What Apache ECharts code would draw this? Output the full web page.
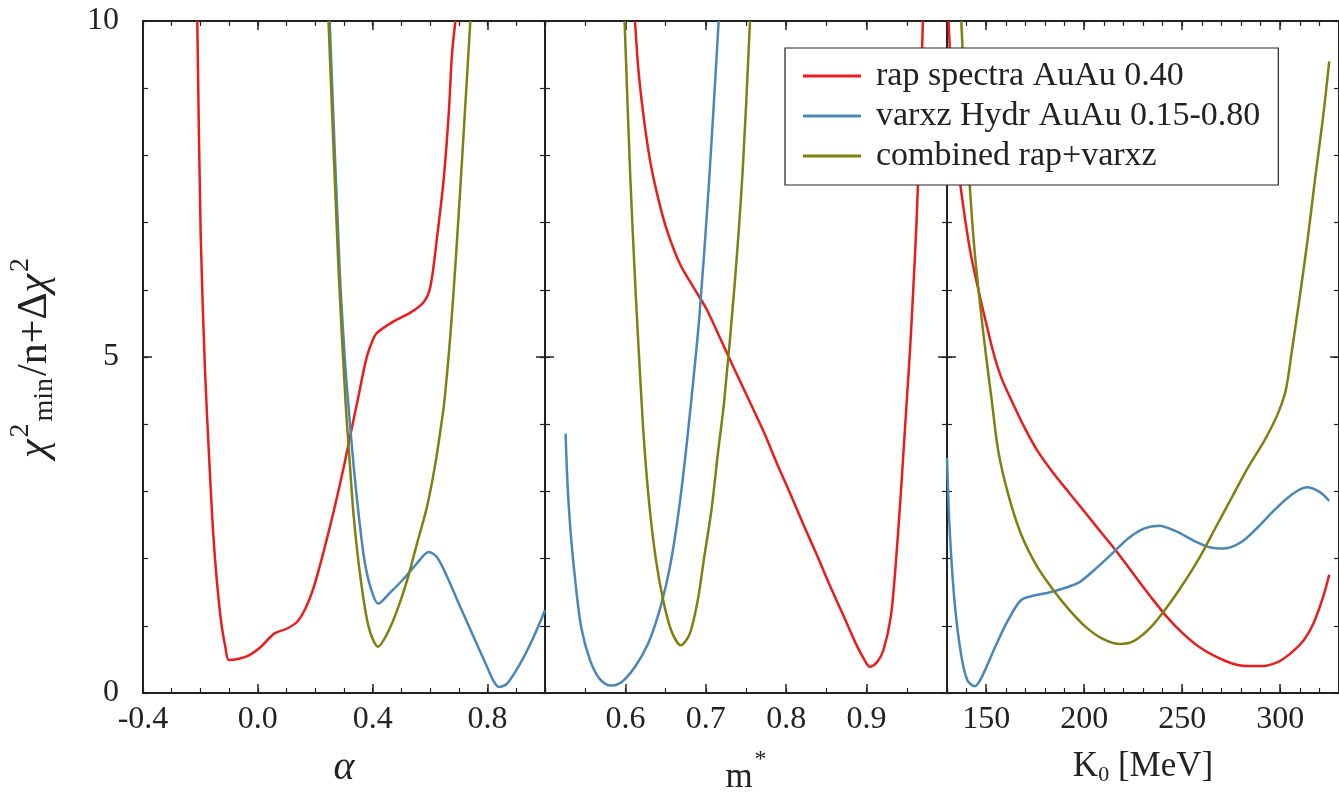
<!DOCTYPE html>
<html>
<head>
<meta charset="utf-8">
<script src="https://cdn.jsdelivr.net/npm/echarts@6/dist/echarts.min.js"></script>
<style>
html,body{margin:0;padding:0;background:#fff;}
#chart{width:1339px;height:803px;}
</style>
</head>
<body>
<div id="chart"></div>
<script>
// ---------- DATA ----------
const seriesNames = ['rap spectra AuAu 0.40', 'varxz Hydr AuAu 0.15-0.80', 'combined rap+varxz'];

// Panel 1: alpha
const alphaRap = [[-0.211,10],[-0.199,6.8],[-0.184,4.8],[-0.171,3.61],[-0.159,2.62],[-0.147,1.88],[-0.130,1.13],[-0.113,0.68],[-0.101,0.49],[-0.066,0.51],[-0.031,0.56],[0.009,0.68],[0.056,0.88],[0.102,0.96],[0.137,1.06],[0.166,1.26],[0.195,1.58],[0.230,2.12],[0.265,2.72],[0.299,3.36],[0.328,3.96],[0.352,4.45],[0.378,4.98],[0.400,5.25],[0.415,5.36],[0.473,5.53],[0.531,5.66],[0.578,5.82],[0.601,6.05],[0.624,6.78],[0.647,7.64],[0.665,8.64],[0.676,9.5],[0.688,10]];
const alphaVarxz = [[0.250,10],[0.285,6.3],[0.304,4.9],[0.317,4.2],[0.334,3.36],[0.352,2.62],[0.371,1.98],[0.392,1.58],[0.419,1.33],[0.462,1.50],[0.508,1.70],[0.554,1.93],[0.595,2.10],[0.624,2.02],[0.659,1.73],[0.705,1.28],[0.752,0.83],[0.798,0.39],[0.822,0.17],[0.839,0.09],[0.868,0.14],[0.914,0.44],[0.960,0.83],[1.0,1.23]];
const alphaComb = [[0.246,10],[0.281,6.3],[0.305,4.36],[0.317,3.61],[0.334,2.62],[0.357,1.73],[0.386,0.98],[0.419,0.69],[0.450,0.88],[0.485,1.23],[0.520,1.68],[0.554,2.22],[0.589,2.77],[0.618,3.41],[0.641,4.06],[0.650,4.36],[0.670,5.3],[0.690,6.5],[0.712,8.0],[0.740,10]];

// Panel 2: m*
const mRap = [[0.612,10],[0.616,9.3],[0.622,8.64],[0.630,7.97],[0.639,7.45],[0.651,6.91],[0.668,6.38],[0.684,6.05],[0.701,5.71],[0.717,5.3],[0.734,4.86],[0.756,4.3],[0.773,3.86],[0.789,3.4],[0.806,2.94],[0.822,2.49],[0.839,2.03],[0.855,1.58],[0.872,1.13],[0.886,0.75],[0.897,0.5],[0.904,0.39],[0.913,0.46],[0.921,0.64],[0.930,1.13],[0.936,1.88],[0.942,2.87],[0.946,3.61],[0.950,4.36],[0.954,5.1],[0.958,6.0],[0.962,6.98],[0.966,8.31],[0.970,10]];
const mVarxz = [[0.5256,3.86],[0.528,3.12],[0.532,2.37],[0.538,1.63],[0.545,0.98],[0.556,0.49],[0.568,0.21],[0.581,0.11],[0.595,0.16],[0.612,0.39],[0.628,0.73],[0.640,1.13],[0.651,1.63],[0.659,2.12],[0.667,2.77],[0.674,3.46],[0.682,4.36],[0.692,5.6],[0.704,7.6],[0.716,10]];
const mComb = [[0.599,10],[0.606,7.7],[0.613,5.9],[0.620,4.36],[0.624,3.61],[0.630,2.77],[0.638,1.98],[0.647,1.38],[0.657,0.93],[0.669,0.71],[0.680,0.88],[0.690,1.38],[0.698,2.02],[0.707,2.72],[0.715,3.56],[0.723,4.36],[0.736,6.1],[0.746,7.8],[0.755,10]];

// Panel 3: K0 [MeV]
const kRap = [[130.8,10],[132.5,9.0],[135,8.0],[138.5,7.2],[142,6.55],[146,6.0],[150,5.5],[154,5.03],[158,4.67],[162.8,4.36],[169.4,3.96],[176.0,3.61],[184.3,3.27],[192.6,2.97],[200.9,2.67],[209.2,2.37],[217.5,2.07],[225.7,1.75],[234.0,1.43],[242.3,1.13],[250.6,0.88],[258.9,0.68],[267.2,0.54],[275.5,0.44],[283.7,0.40],[290.4,0.40],[298.7,0.46],[305.3,0.59],[311.9,0.78],[316.9,1.03],[321.9,1.43],[325,1.76]];
const kVarxz = [[130,3.5],[131.3,2.47],[133.8,1.38],[137.1,0.59],[140.4,0.19],[144.2,0.10],[147.8,0.24],[154.5,0.68],[161.1,1.08],[167.7,1.38],[174.4,1.45],[182.6,1.50],[190.9,1.57],[197.6,1.65],[205.9,1.85],[214.1,2.07],[222.4,2.30],[230.7,2.45],[238.2,2.49],[247.3,2.40],[255.6,2.27],[263.9,2.17],[271.3,2.15],[280.4,2.25],[288.7,2.47],[297.0,2.72],[305.3,2.94],[313.6,3.06],[320.2,2.99],[325,2.86]];
const kComb = [[137.3,10],[139,8.9],[141.5,7.6],[144,6.6],[147,5.75],[150,5.0],[152.8,4.36],[156.1,3.61],[161.1,2.97],[167.7,2.37],[176.0,1.88],[184.3,1.53],[192.6,1.23],[200.9,0.98],[209.2,0.81],[218.3,0.73],[225.7,0.78],[234.0,0.98],[242.3,1.28],[250.6,1.63],[258.9,2.02],[267.2,2.47],[275.5,2.92],[283.7,3.36],[292.0,3.76],[298.7,4.15],[302.8,4.5],[306,5.1],[310,5.9],[314,6.75],[318,7.7],[322,8.6],[325,9.4]];

// Tick labels
const alphaTicks = [-0.4, 0.0, 0.4, 0.8];
const mTicks = [0.6, 0.7, 0.8, 0.9];
const kTicks = [150, 200, 250, 300];
const yTicks = [0, 5, 10];

// ---------- STYLE ----------
const FF = '"Liberation Serif", "DejaVu Serif", serif';
const INK = '#222';
const colors = ['#ea1c1c', '#4a87b9', '#7f800e'];

const panels = [
  {left: 143, min: -0.4, max: 1.0, ticks: alphaTicks, minor: 0.1, fmt: v => v.toFixed(1),
   name: '{i|α}', data: [alphaRap, alphaVarxz, alphaComb]},
  {left: 545, min: 0.5, max: 1.0, ticks: mTicks, minor: 0.05, fmt: v => v.toFixed(1),
   name: '{t|m}{star|*}', data: [mRap, mVarxz, mComb]},
  {left: 947, min: 130, max: 330, ticks: kTicks, minor: 10, fmt: v => String(v),
   name: '{t|K}{sub|0}{t| [MeV]}', data: [kRap, kVarxz, kComb]}
];

const rich = {
  t: {fontFamily: FF, fontSize: 35, color: INK},
  i: {fontFamily: FF, fontSize: 40, color: INK, fontStyle: 'italic'},
  star: {fontFamily: FF, fontSize: 24, color: INK, padding: [0, 0, 36, 2]},
  sup: {fontFamily: FF, fontSize: 22, color: INK, padding: [0, 0, 22, 0]},
  sub: {fontFamily: FF, fontSize: 22, color: INK, padding: [16, 0, 0, 0]}
};
const yrich = {
  t: {fontFamily: FF, fontSize: 42, color: INK},
  ti: {fontFamily: FF, fontSize: 42, color: INK, fontStyle: 'italic'},
  sup: {fontFamily: FF, fontSize: 28, color: INK, padding: [0, 2, 28, 2]},
  sub: {fontFamily: FF, fontSize: 28, color: INK, padding: [20, 2, 0, 0]}
};

const grids = [], xAxes = [], yAxes = [], series = [];
const lineStyle = {color: INK, width: 2};

panels.forEach((p, g) => {
  grids.push({left: p.left, top: 21, width: 402, height: 672});
  const base = {type: 'value', gridIndex: g, min: p.min, max: p.max, splitLine: {show: false}};
  xAxes.push(Object.assign({}, base, {
    position: 'bottom',
    axisLine: {show: true, onZero: false, lineStyle},
    axisTick: {show: true, inside: true, length: 9, lineStyle: {color: INK, width: 1.5}, customValues: p.ticks},
    axisLabel: {show: true, customValues: p.ticks, formatter: p.fmt, fontFamily: FF, fontSize: 32, color: INK, margin: 11},
    name: p.name, nameLocation: 'middle', nameGap: 55,
    nameTextStyle: {fontFamily: FF, fontSize: 35, color: INK, rich: rich}
  }));
  xAxes.push(Object.assign({}, base, {
    position: 'bottom', interval: p.minor,
    axisLine: {show: false, onZero: false},
    axisTick: {show: true, inside: true, length: 5, lineStyle: {color: INK, width: 1.2}},
    axisLabel: {show: false}
  }));
  xAxes.push(Object.assign({}, base, {
    position: 'top',
    axisLine: {show: true, onZero: false, lineStyle},
    axisTick: {show: true, inside: true, length: 9, lineStyle: {color: INK, width: 1.5}, customValues: p.ticks},
    axisLabel: {show: false}
  }));
  xAxes.push(Object.assign({}, base, {
    position: 'top', interval: p.minor,
    axisLine: {show: false, onZero: false},
    axisTick: {show: true, inside: true, length: 5, lineStyle: {color: INK, width: 1.2}},
    axisLabel: {show: false}
  }));

  const ybase = {type: 'value', gridIndex: g, min: 0, max: 10, splitLine: {show: false}};
  const leftMajor = Object.assign({}, ybase, {
    position: 'left',
    axisLine: {show: true, onZero: false, lineStyle},
    axisTick: {show: true, inside: true, length: 9, lineStyle: {color: INK, width: 1.5}, customValues: yTicks},
    axisLabel: {show: g === 0, customValues: yTicks, fontFamily: FF, fontSize: 32, color: INK, margin: 24}
  });
  if (g === 0) {
    leftMajor.name = '{ti|χ}{sup|2}{sub|min}{t|/n+Δ}{ti|χ}{sup|2}';
    leftMajor.nameLocation = 'middle';
    leftMajor.nameRotate = 90;
    leftMajor.nameGap = 80;
    leftMajor.nameTextStyle = {fontFamily: FF, fontSize: 42, color: INK, rich: yrich};
  }
  yAxes.push(leftMajor);
  yAxes.push(Object.assign({}, ybase, {
    position: 'left', interval: 1,
    axisLine: {show: false, onZero: false},
    axisTick: {show: true, inside: true, length: 5, lineStyle: {color: INK, width: 1.2}},
    axisLabel: {show: false}
  }));
  yAxes.push(Object.assign({}, ybase, {
    position: 'right',
    axisLine: {show: true, onZero: false, lineStyle},
    axisTick: {show: true, inside: true, length: 9, lineStyle: {color: INK, width: 1.5}, customValues: yTicks},
    axisLabel: {show: false}
  }));
  yAxes.push(Object.assign({}, ybase, {
    position: 'right', interval: 1,
    axisLine: {show: false, onZero: false},
    axisTick: {show: true, inside: true, length: 5, lineStyle: {color: INK, width: 1.2}},
    axisLabel: {show: false}
  }));

  p.data.forEach((d, k) => {
    series.push({
      type: 'line', name: seriesNames[k], data: d,
      xAxisIndex: 4 * g, yAxisIndex: 4 * g,
      symbol: 'none', smooth: 0.3, clip: true,
      lineStyle: {color: colors[k], width: 2.5},
      itemStyle: {color: colors[k]}
    });
  });
});

const chart = echarts.init(document.getElementById('chart'), null, {renderer: 'canvas'});
chart.setOption({
  animation: false,
  backgroundColor: '#fff',
  grid: grids,
  xAxis: xAxes,
  yAxis: yAxes,
  legend: {
    data: seriesNames.map((n, k) => ({name: n, icon: 'rect', itemStyle: {color: colors[k]}})),
    orient: 'vertical',
    left: 785, top: 48,
    z: 10,
    backgroundColor: '#fff',
    borderColor: INK, borderWidth: 1.2, borderRadius: 0,
    padding: [11, 18, 12, 18],
    itemWidth: 58, itemHeight: 3, itemGap: 6,
    textStyle: {fontFamily: FF, fontSize: 34, color: INK, padding: [0, 0, 0, 10], lineHeight: 34}
  },
  series: series
});
</script>
</body>
</html>
